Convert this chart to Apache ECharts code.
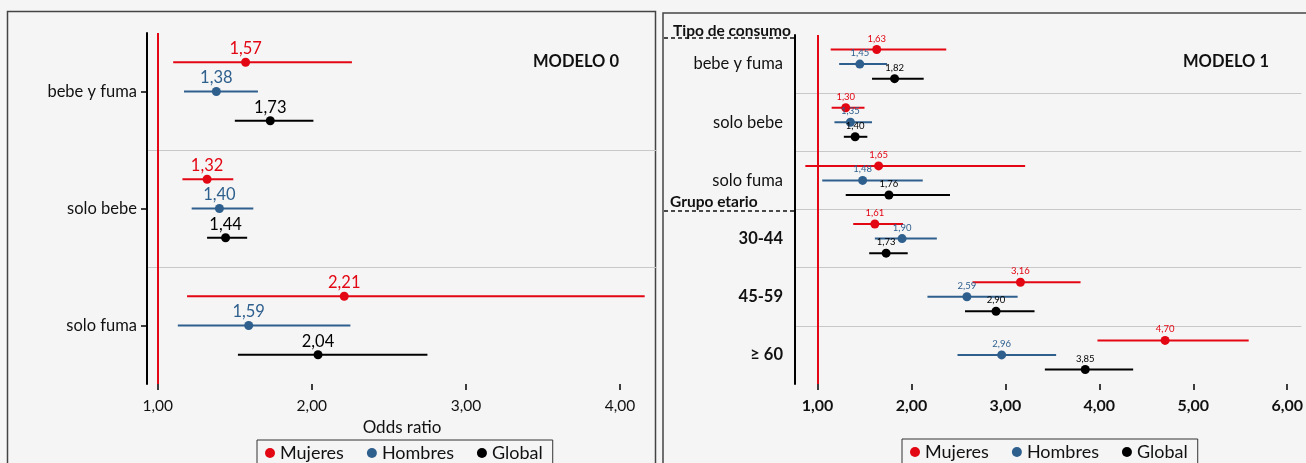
<!DOCTYPE html>
<html>
<head>
<meta charset="utf-8">
<script src="https://cdn.jsdelivr.net/npm/echarts@6/dist/echarts.min.js"></script>
<style>
html,body{margin:0;padding:0;background:#f5f5f5}
#main{width:1306px;height:463px}
</style>
</head>
<body>
<div id="main"></div>
<script>
// categorías de cada modelo
var categorias0 = ['bebe y fuma', 'solo bebe', 'solo fuma'];
var categorias1 = ['bebe y fuma', 'solo bebe', 'solo fuma', '30-44', '45-59', '≥ 60'];
var grupos = ['Mujeres', 'Hombres', 'Global'];
var colores = ['#e30613', '#2e5f8d', '#000000'];

// [IC inferior, OR, IC superior] por categoría
var m0Mujeres = [[1.10, 1.57, 2.26], [1.16, 1.32, 1.49], [1.19, 2.21, 4.16]];
var m0Hombres = [[1.17, 1.38, 1.65], [1.22, 1.40, 1.62], [1.13, 1.59, 2.25]];
var m0Global  = [[1.50, 1.73, 2.01], [1.32, 1.44, 1.58], [1.52, 2.04, 2.75]];

var m1Mujeres = [[1.14, 1.63, 2.37], [1.15, 1.30, 1.50], [0.87, 1.65, 3.21], [1.38, 1.61, 1.91], [2.65, 3.16, 3.80], [3.98, 4.70, 5.59]];
var m1Hombres = [[1.23, 1.45, 1.74], [1.18, 1.35, 1.58], [1.05, 1.48, 2.12], [1.61, 1.90, 2.27], [2.17, 2.59, 3.13], [2.49, 2.96, 3.54]];
var m1Global  = [[1.58, 1.82, 2.13], [1.28, 1.40, 1.53], [1.30, 1.76, 2.41], [1.55, 1.73, 1.96], [2.57, 2.90, 3.31], [3.42, 3.85, 4.36]];

var ticks0 = [1, 2, 3, 4];
var ticks1 = [1, 2, 3, 4, 5, 6];

var fuente = 'Lato, "Open Sans", sans-serif';

function coma(v) {
    return v.toFixed(2).replace('.', ',');
}

function filas(lista) {
    return lista.map(function (d, i) { return [i, d[0], d[1], d[2]]; });
}

// dibuja el intervalo, el punto y la etiqueta desplazados dentro de la banda
function forestItem(offset, color, fontSize, gap, r) {
    return function (params, api) {
        var cat = api.value(0);
        var p = api.coord([api.value(2), cat]);
        var a = api.coord([api.value(1), cat]);
        var b = api.coord([api.value(3), cat]);
        var y = p[1] + api.size([0, 1])[1] * offset;
        return {
            type: 'group',
            children: [
                { type: 'line', shape: { x1: a[0], y1: y, x2: b[0], y2: y }, style: { stroke: color, lineWidth: 2 } },
                { type: 'circle', shape: { cx: p[0], cy: y, r: r }, style: { fill: color } },
                { type: 'text', x: p[0], y: y - gap, style: { text: coma(api.value(2)), fill: color, font: fontSize + 'px ' + fuente, align: 'center', verticalAlign: 'bottom' } }
            ]
        };
    };
}

var offsets = [-0.25, 0, 0.25];
var datos0 = [m0Mujeres, m0Hombres, m0Global];
var datos1 = [m1Mujeres, m1Hombres, m1Global];

var lineaRoja = {
    silent: true, symbol: 'none', label: { show: false },
    lineStyle: { color: '#e30613', width: 2, type: 'solid' },
    data: [{ xAxis: 1 }]
};

var series = [];
grupos.forEach(function (g, i) {
    series.push({
        name: g, type: 'custom', xAxisIndex: 0, yAxisIndex: 0,
        itemStyle: { color: colores[i] },
        encode: { x: [1, 2, 3], y: 0 },
        renderItem: forestItem(offsets[i], colores[i], 16.5, 5, 4.5),
        data: filas(datos0[i]),
        markLine: i === 0 ? lineaRoja : undefined
    });
});
grupos.forEach(function (g, i) {
    series.push({
        name: g, type: 'custom', xAxisIndex: 1, yAxisIndex: 1,
        itemStyle: { color: colores[i] },
        encode: { x: [1, 2, 3], y: 0 },
        renderItem: forestItem(offsets[i], colores[i], 9.5, 6, 4.5),
        data: filas(datos1[i]),
        markLine: i === 0 ? lineaRoja : undefined
    });
});

var ejeX = function (min, max, ticks, bold) {
    return {
        type: 'value', min: min, max: max,
        axisLine: { lineStyle: { color: '#000', width: 2 } },
        axisTick: { show: true, length: 6, customValues: ticks, lineStyle: { color: '#000', width: 1.5 } },
        axisLabel: { customValues: ticks, formatter: coma, color: '#111', fontSize: bold ? 16 : 15.5, fontFamily: fuente, fontWeight: bold ? 'bold' : 'normal', margin: 14 },
        splitLine: { show: false }
    };
};

var leyenda = function (left, top) {
    return {
        data: grupos, left: left, top: top, icon: 'circle',
        itemWidth: 10, itemHeight: 10, itemGap: 23,
        borderColor: '#333', borderWidth: 1, borderRadius: 0,
        padding: [4, 10, 10, 8],
        textStyle: { fontSize: 18, fontFamily: fuente, color: '#111' }
    };
};

var option = {
    backgroundColor: '#f5f5f5',
    animation: false,
    title: [
        { text: 'MODELO 0', left: 533, top: 53, padding: 0, textStyle: { fontSize: 16.5, fontWeight: 'bold', fontFamily: fuente, color: '#111' } },
        { text: 'MODELO 1', left: 1183, top: 53, padding: 0, textStyle: { fontSize: 16.5, fontWeight: 'bold', fontFamily: fuente, color: '#111' } }
    ],
    legend: [leyenda(257, 440), leyenda(902, 439)],
    grid: [
        { left: 147, top: 33, width: 510, height: 351 },
        { left: 795, top: 35, width: 508, height: 349 }
    ],
    xAxis: [
        Object.assign(ejeX(0.93, 4.24, ticks0, false), {
            gridIndex: 0, name: 'Odds ratio', nameLocation: 'middle', nameGap: 27,
            nameTextStyle: { fontSize: 17, fontFamily: fuente, color: '#111', verticalAlign: 'top' }
        }),
        Object.assign(ejeX(0.76, 6.15, ticks1, true), { gridIndex: 1 })
    ],
    yAxis: [
        {
            type: 'category', gridIndex: 0, data: categorias0, inverse: true,
            axisLine: { lineStyle: { color: '#000', width: 2 } },
            axisTick: { show: true, alignWithLabel: true, length: 6, lineStyle: { color: '#000', width: 1.5 } },
            axisLabel: { color: '#111', fontSize: 16.5, fontFamily: fuente, margin: 10 },
            splitLine: { show: true, showMinLine: false, showMaxLine: false, lineStyle: { color: '#c8c8c8', width: 1 } }
        },
        {
            type: 'category', gridIndex: 1, data: categorias1, inverse: true,
            axisLine: { lineStyle: { color: '#000', width: 2 } },
            axisTick: { show: false },
            axisLabel: {
                margin: 12,
                formatter: function (v, i) { return (i < 3 ? '{n|' : '{b|') + v + '}'; },
                rich: {
                    n: { color: '#111', fontSize: 16.5, fontFamily: fuente },
                    b: { color: '#111', fontSize: 16.5, fontWeight: 'bold', fontFamily: fuente }
                }
            },
            splitLine: { show: true, showMinLine: false, showMaxLine: false, lineStyle: { color: '#c8c8c8', width: 1 } }
        }
    ],
    graphic: [
        { type: 'rect', shape: { x: 7.5, y: 11.5, width: 648, height: 480 }, style: { fill: 'none', stroke: '#444', lineWidth: 1.5 } },
        { type: 'rect', shape: { x: 663, y: 13, width: 660, height: 480 }, style: { fill: 'none', stroke: '#444', lineWidth: 1.5 } },
        { type: 'text', x: 673, y: 31, style: { text: 'Tipo de consumo', font: 'bold 15.5px ' + fuente, fill: '#111', verticalAlign: 'middle' } },
        { type: 'line', shape: { x1: 664, y1: 38, x2: 795, y2: 38 }, style: { stroke: '#111', lineWidth: 1.5, lineDash: [4, 3] } },
        { type: 'text', x: 670, y: 202, style: { text: 'Grupo etario', font: 'bold 15.5px ' + fuente, fill: '#111', verticalAlign: 'middle' } },
        { type: 'line', shape: { x1: 664, y1: 211, x2: 795, y2: 211 }, style: { stroke: '#111', lineWidth: 1.5, lineDash: [4, 3] } }
    ],
    series: series
};

var chart = echarts.init(document.getElementById('main'));
chart.setOption(option);
</script>
</body>
</html>
